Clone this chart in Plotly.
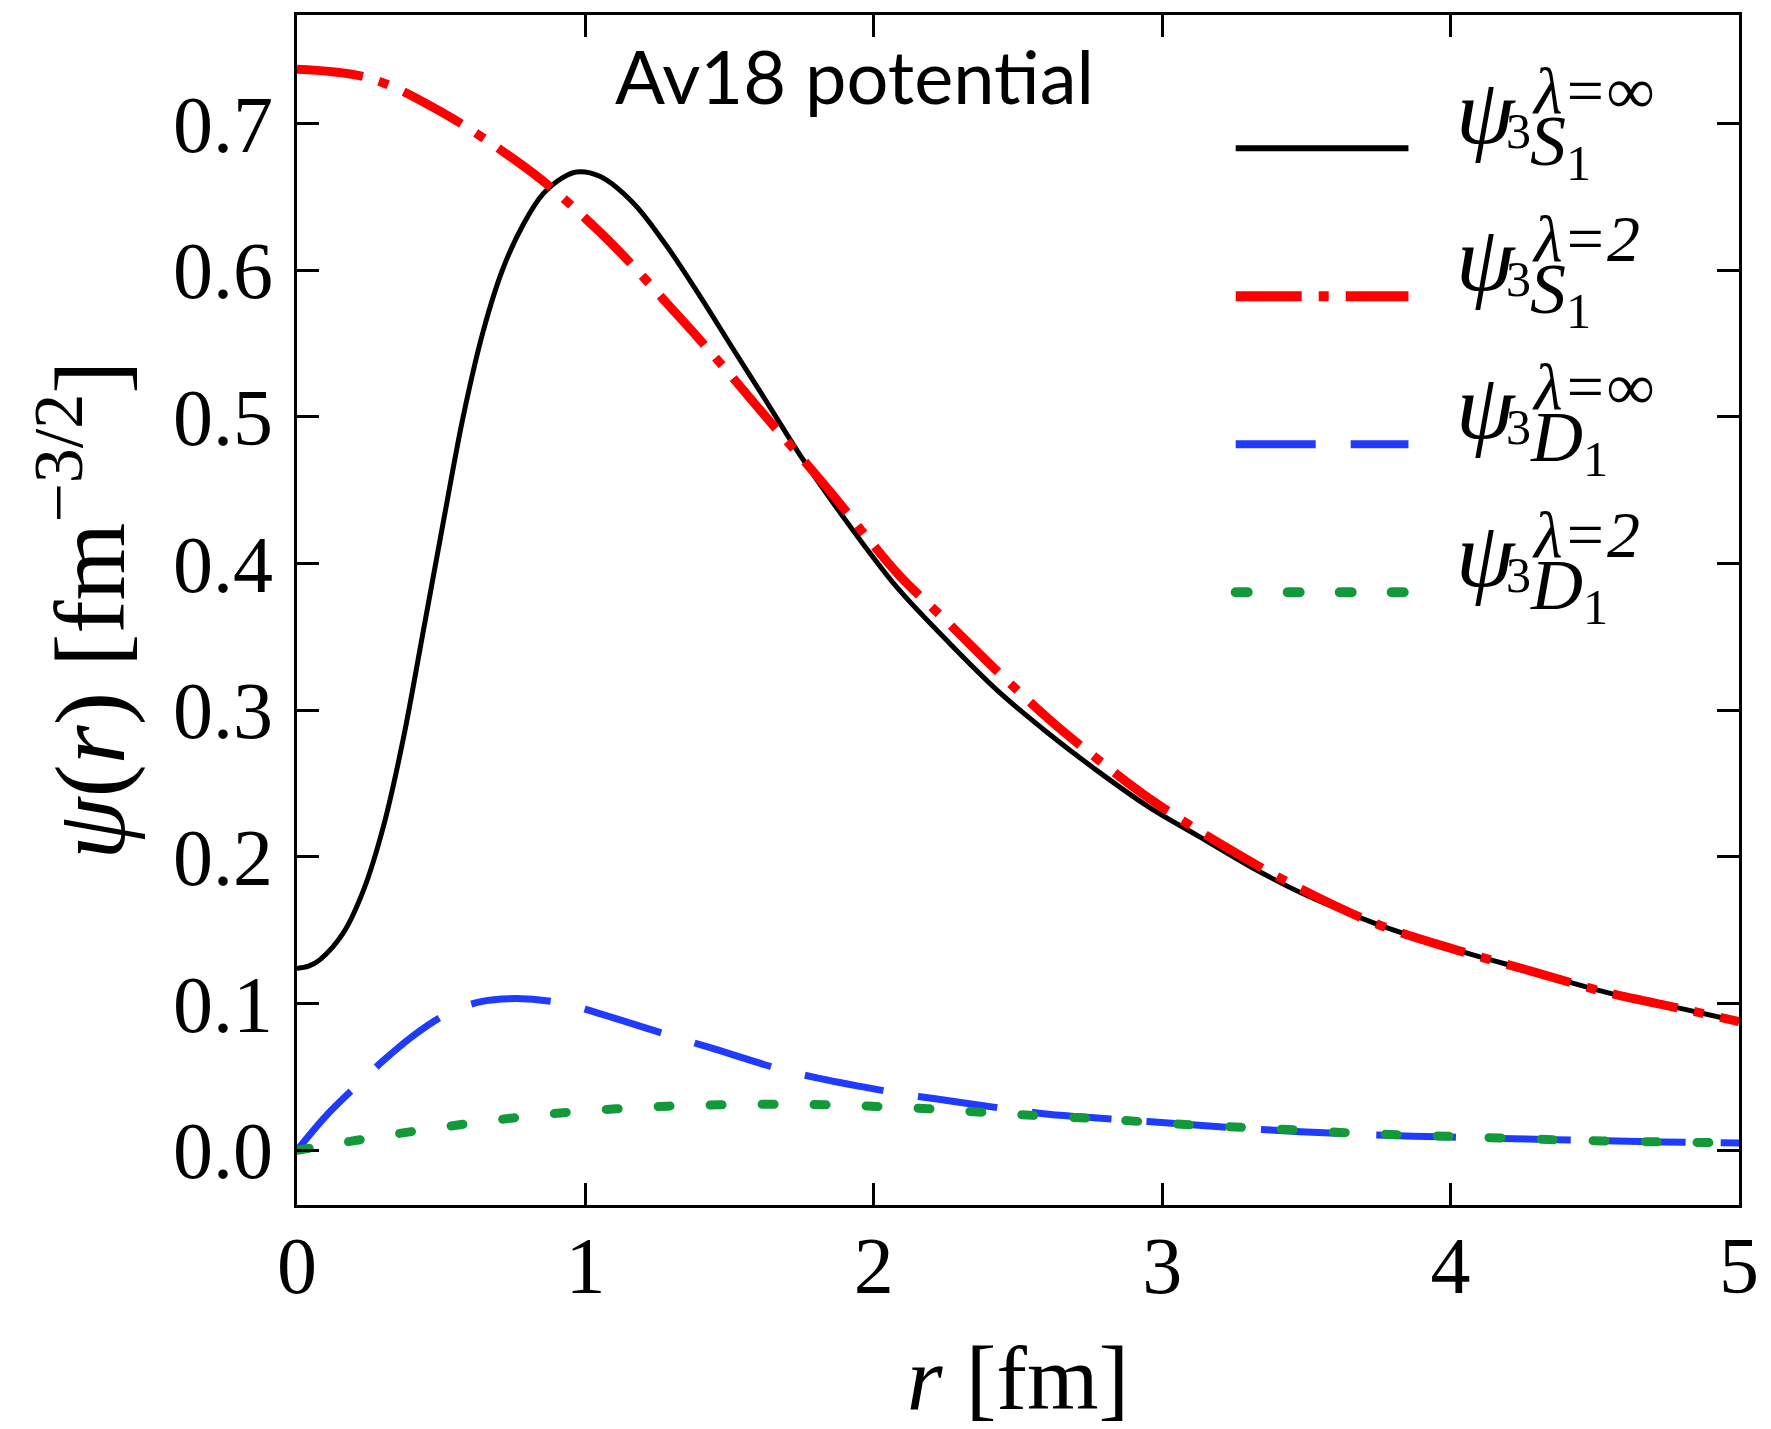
import plotly.graph_objects as go

# Deuteron wave functions, Av18 potential: unevolved (lambda = inf) and SRG-evolved (lambda = 2)
r_s_inf = [0.0, 0.04, 0.08, 0.16, 0.23, 0.30, 0.368, 0.437, 0.507, 0.576, 0.645, 0.714, 0.784,
           0.853, 0.92, 0.97, 1.05, 1.165, 1.28, 1.395, 1.51, 1.626, 1.741, 1.857, 1.972, 2.088,
           2.261, 2.434, 2.607, 2.78, 2.954, 3.127, 3.3, 3.483, 3.749, 4.013, 4.279, 4.543, 4.809,
           5.0]
psi_s_inf = [0.124, 0.1255, 0.130, 0.148, 0.177, 0.221, 0.280, 0.353, 0.428, 0.500, 0.558, 0.601,
             0.631, 0.652, 0.663, 0.667, 0.664, 0.646, 0.617, 0.583, 0.547, 0.511, 0.475, 0.442,
             0.411, 0.382, 0.346, 0.3125, 0.284, 0.258, 0.234, 0.214, 0.194, 0.1754, 0.1539,
             0.137, 0.1222, 0.1075, 0.0962, 0.0878]

r_s_lam2 = [0.0, 0.25, 0.5, 0.75, 0.877, 1.05, 1.165, 1.28, 1.395, 1.51, 1.626, 1.741, 1.857,
            1.972, 2.088, 2.261, 2.434, 2.607, 2.78, 2.954, 3.218, 3.483, 3.749, 4.013, 4.279,
            4.543, 4.809, 5.0]
psi_s_lam2 = [0.737, 0.731, 0.708, 0.676, 0.657, 0.626, 0.603, 0.578, 0.553, 0.527, 0.500, 0.474,
              0.447, 0.419, 0.392, 0.359, 0.3255, 0.294, 0.266, 0.240, 0.207, 0.178, 0.1539,
              0.137, 0.1222, 0.1075, 0.0962, 0.0878]

r_d_inf = [0.0, 0.103, 0.207, 0.299, 0.403, 0.518, 0.634, 0.761, 0.922, 1.038, 1.303, 1.43,
           1.672, 1.811, 2.097, 2.213, 2.499, 2.614, 2.947, 3.303, 3.712, 4.004, 4.362, 4.731, 5.0]
psi_d_inf = [0.0, 0.024, 0.0441, 0.0611, 0.0781, 0.0928, 0.1012, 0.1034, 0.1003, 0.0939, 0.0776,
             0.0701, 0.0555, 0.049, 0.0385, 0.0351, 0.0272, 0.0244, 0.0197, 0.0147, 0.0106,
             0.009, 0.0072, 0.0057, 0.005]

r_d_lam2 = [0.0, 0.207, 0.385, 0.564, 0.743, 0.922, 1.107, 1.286, 1.465, 1.649, 1.83, 2.012,
            2.192, 2.372, 2.552, 2.734, 2.916, 3.094, 3.279, 3.457, 3.639, 3.82, 4.0, 4.362,
            4.731, 5.0]
psi_d_lam2 = [0.0, 0.0068, 0.0124, 0.0174, 0.0219, 0.0256, 0.0283, 0.0301, 0.031, 0.0314, 0.031,
              0.0299, 0.0283, 0.026, 0.0238, 0.022, 0.0197, 0.0174, 0.0156, 0.014, 0.012, 0.0106,
              0.0095, 0.0072, 0.0057, 0.005]

x_ticks = [0, 1, 2, 3, 4, 5]
y_ticks = [0.0, 0.1, 0.2, 0.3, 0.4, 0.5, 0.6, 0.7]

legend_sup = ["λ=∞", "λ=2", "λ=∞", "λ=2"]
legend_wave = ["S", "S", "D", "D"]

BLACK = "#000000"
RED = "#ff0000"
BLUE = "#1f3bff"
GREEN = "#12993a"

styles = [
    dict(color=BLACK, width=5, dash="solid"),
    dict(color=RED, width=9, dash="66px,17px,10px,17px"),
    dict(color=BLUE, width=7, dash="80px,35px"),
    dict(color=GREEN, width=9, dash="12px,40px"),
]

W, H = 1771, 1429
ML, MR, MT, MB = 297, 30, 14, 219
PW, PH = W - ML - MR, H - MT - MB


def px(X):
    return (X - ML) / PW


def py(Y):
    return (H - MB - Y) / PH


SERIF = "Liberation Serif"

fig = go.Figure()
series = [(r_s_inf, psi_s_inf), (r_s_lam2, psi_s_lam2), (r_d_inf, psi_d_inf), (r_d_lam2, psi_d_lam2)]
for (rx, ry), st in zip(series, styles):
    fig.add_trace(go.Scatter(
        x=rx, y=ry, mode="lines", showlegend=False, hoverinfo="skip",
        line=dict(color=st["color"], width=st["width"], dash=st["dash"],
                  shape="spline", smoothing=1.0),
    ))

axis_common = dict(
    showline=True, linewidth=3, linecolor="black", mirror="allticks",
    ticks="inside", ticklen=22, tickwidth=2.5, tickcolor="black",
    showgrid=False, zeroline=False,
    tickfont=dict(family=SERIF, size=80, color="black"),
)

fig.update_xaxes(range=[0, 5], tickvals=x_ticks, ticklabelstandoff=-11,
                 title=dict(text="<i>r</i> [fm]", font=dict(family=SERIF, size=92, color="black"),
                            standoff=43),
                 **axis_common)
fig.update_yaxes(range=[-0.0373, 0.774], tickvals=y_ticks, tickformat=".1f", ticklabelstandoff=5,
                 title=dict(text="<i>ψ</i>(<i>r</i>) [fm<sup>−3/2</sup>]",
                            font=dict(family=SERIF, size=100, color="black"), standoff=16),
                 **axis_common)

shapes = []
annotations = [dict(
    text="Av18 potential", x=px(855), y=py(75), xref="paper", yref="paper",
    xanchor="center", yanchor="middle", showarrow=False,
    font=dict(family="Lato", size=74, color="black"),
)]


def note(text, X, Y, size, xanchor):
    return dict(text=text, x=px(X), y=py(Y), xref="paper", yref="paper",
                xanchor=xanchor, yanchor="middle", showarrow=False,
                font=dict(family=SERIF, size=size, color="black"))


# hand-built legend: line sample, then psi with stacked super/subscripts
for i, st in enumerate(styles):
    Y = 148 + 148.7 * i
    shapes.append(dict(type="line", xref="paper", yref="paper",
                       x0=px(1237), x1=px(1410), y0=py(Y), y1=py(Y),
                       line=dict(color=st["color"], width=st["width"] + 1, dash=st["dash"])))
    annotations.append(note("<i>ψ</i>", 1520, Y - 38, 94, "right"))
    annotations.append(note("<i>" + legend_sup[i] + "</i>", 1532, Y - 58, 66, "left"))
    annotations.append(note("3", 1506, Y - 17, 50, "left"))
    annotations.append(note("<i>" + legend_wave[i] + "</i><sub>1</sub>", 1530, Y - 2, 72, "left"))

fig.update_layout(
    width=W, height=H,
    margin=dict(l=ML, r=MR, t=MT, b=MB),
    paper_bgcolor="white", plot_bgcolor="white",
    shapes=shapes, annotations=annotations,
    showlegend=False,
)

# round caps for the dotted green curve and its legend sample
round_caps = """
var gd = document.getElementById('{plot_id}');
gd.querySelectorAll('path').forEach(function(p){
  var s = (p.style.stroke || p.getAttribute('stroke') || '').replace(/\\s/g, '');
  if (s === 'rgb(18,153,58)' || s === '#12993a') { p.style.strokeLinecap = 'round'; }
});
"""

fig.write_html("out.html", post_script=round_caps)
